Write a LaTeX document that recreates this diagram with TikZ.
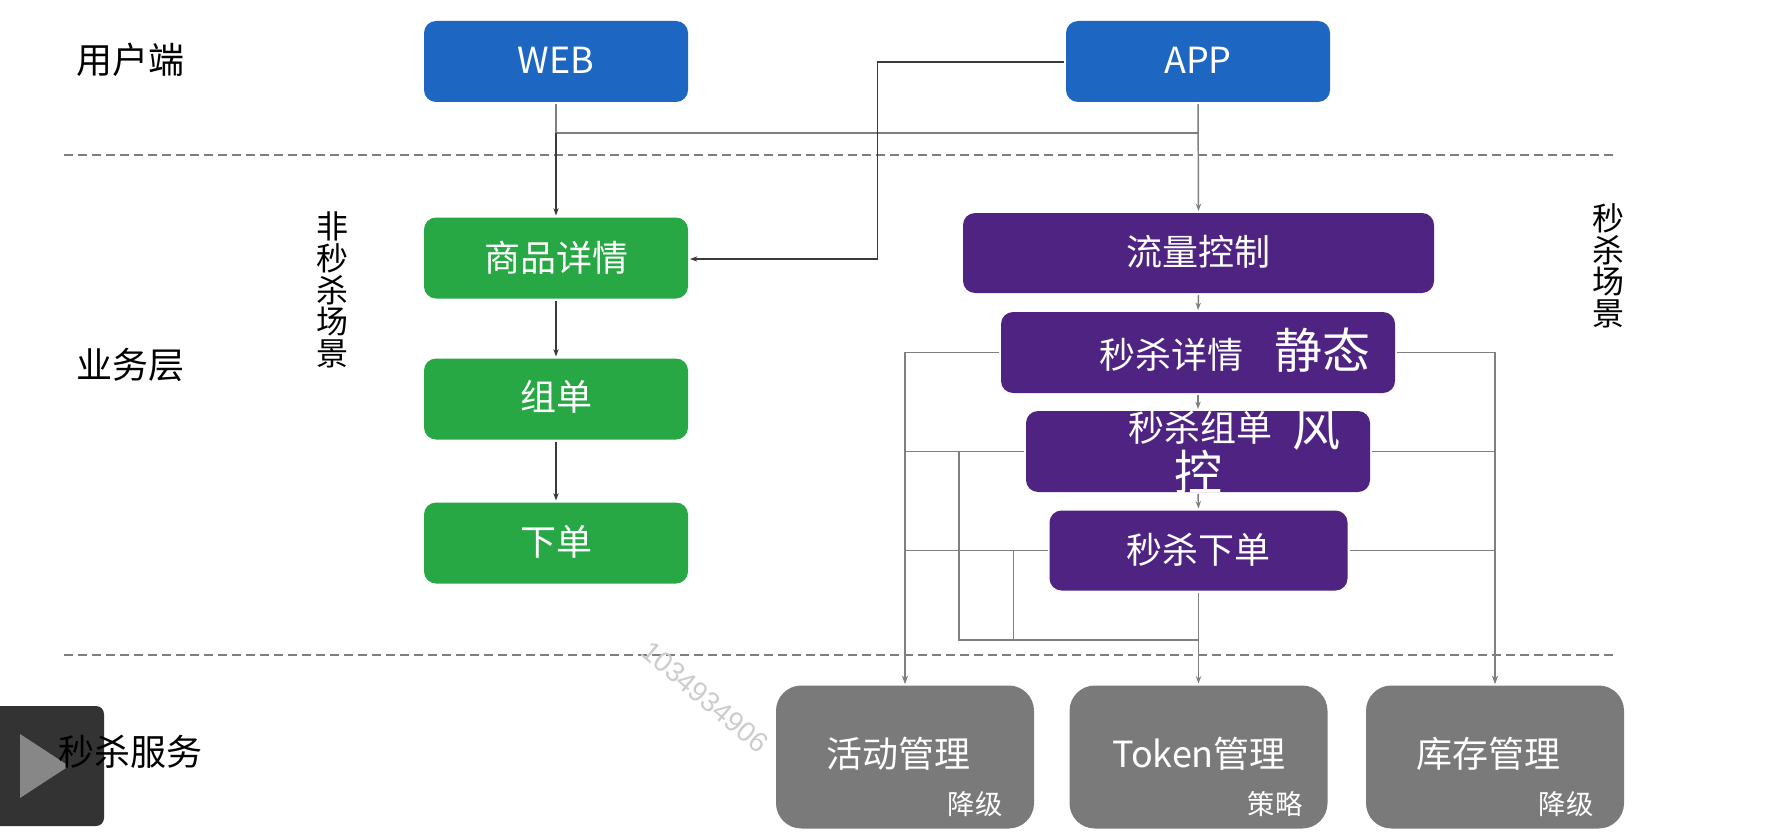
\documentclass[tikz,border=0pt]{standalone}
\usepackage{fontspec}
\setmainfont{Noto Sans CJK SC}
\newfontfamily\wmfont{Liberation Sans}
\usetikzlibrary{arrows.meta,positioning}
\definecolor{cblue}{HTML}{1D66C1}
\definecolor{cgreen}{HTML}{28A745}
\definecolor{cpurple}{HTML}{4F2382}
\definecolor{cgray}{HTML}{7A7A7A}
\definecolor{cline}{HTML}{7F7F7F}
\definecolor{cdark}{HTML}{3A3A3A}
\newcommand{\fsz}[1]{\fontsize{#1}{#1}\selectfont}
\tikzset{
  x=0.75pt,y=-0.75pt,
  boxbase/.style={inner sep=0pt,outer sep=1.5pt,text=white,font=\fsz{26}},
  sz/.style 2 args={minimum width=#1*0.75pt,minimum height=#2*0.75pt},
  bluebox/.style={boxbase,fill=cblue,rounded corners=9pt,sz={264}{81}},
  greenbox/.style={boxbase,fill=cgreen,rounded corners=9pt,sz={264}{81}},
  purplebox/.style={boxbase,fill=cpurple,rounded corners=9pt},
  graybox/.style={boxbase,fill=cgray,rounded corners=19pt,sz={258}{143}},
  boxtext/.style={inner sep=0pt,text=white,font=\fsz{27}},
  bigtext/.style={inner sep=0pt,text=white,font=\fsz{36}},
  smalltext/.style={inner sep=0pt,text=white,font=\fsz{20.5}},
  lefttext/.style={inner sep=0pt,text=black,font=\fsz{27}},
  sidetext/.style={inner sep=0pt,text=black,font=\fsz{24},align=center},
  conn/.style={draw=cline,line width=1.1pt},
  darkconn/.style={draw=cdark,line width=1.1pt},
  arr/.style={-{Stealth[length=5.5pt,width=4pt]}},
  sepline/.style={draw=cline,line width=1.2pt,dash pattern=on 7pt off 3.5pt},
}
\begin{document}
\begin{tikzpicture}
\useasboundingbox (0,0) rectangle (1770,838);
\fill[white] (0,0) rectangle (1770,838);
% separators
\coordinate (s1a) at (64,155); \coordinate (s1b) at (1614,155);
\coordinate (s2a) at (64,655); \coordinate (s2b) at (1614,655);
\draw[sepline] (s1a) -- (s1b);
\draw[sepline] (s2a) -- (s2b);
% boxes
\node[bluebox] (web) at (556,61.5) {};
\node[bluebox] (app) at (1198,61.5) {};
\node[greenbox] (goods) at (556,258) {};
\node[greenbox] (zu) at (556,399) {};
\node[greenbox] (xia) at (556,543) {};
\node[purplebox,sz={471}{80}] (fc) at (1198.5,253) {};
\node[purplebox,sz={394}{81}] (xq) at (1198,352.5) {};
\node[purplebox,sz={344}{81}] (zd) at (1198,451.5) {};
\node[purplebox,sz={298}{80}] (xd) at (1198.5,550.5) {};
\node[graybox] (hd) at (905,757) {};
\node[graybox] (tk) at (1198.5,757) {};
\node[graybox] (kc) at (1495,757) {};
% connectors
\coordinate (jw) at (web.south |- 0,133);
\coordinate (ja) at (app.south |- 0,133);
\coordinate (ctl) at (877.5,62);
\coordinate (ctlb) at (877.5,259);
\coordinate (zi) at (959,451.5);
\coordinate (xi) at (1013.5,550.5);
\coordinate (mg) at (tk.north |- 0,640);
\draw[conn] (jw) -- (ja);
\draw[conn] (web.south) -- (jw);
\draw[darkconn,arr] (jw) -- (goods.north);
\draw[conn,arr] (app.south) -- (fc.north);
\draw[darkconn,arr] (app.west |- ctl) -- (ctl) -- (ctlb) -- (goods.east |- ctlb);
\draw[darkconn,arr] (goods.south) -- (zu.north);
\draw[darkconn,arr] (zu.south) -- (xia.north);
\draw[conn,arr] (fc.south) -- (xq.north);
\draw[conn,arr] (xq.south) -- (zd.north);
\draw[conn,arr] (zd.south) -- (xd.north);
\draw[conn,arr] (xq.west) -| (hd.north);
\draw[conn,arr] (zd.west) -| (hd.north);
\draw[conn,arr] (xd.west) -| (hd.north);
\draw[conn,arr] (xq.east) -| (kc.north);
\draw[conn,arr] (zd.east) -| (kc.north);
\draw[conn,arr] (xd.east) -| (kc.north);
\draw[conn] (zi) |- (mg);
\draw[conn] (xi) -- (xi |- mg);
\draw[conn,arr] (xd.south) -- (tk.north);
% box texts
\node[boxtext] (t1) at (556,60) {WEB};
\node[boxtext] (t2) at (1198,60) {APP};
\node[boxtext] (t3) at (556,258) {商品详情};
\node[boxtext] (t4) at (556,397) {组单};
\node[boxtext] (t5) at (556,542) {下单};
\node[boxtext] (t6) at (1198,252) {流量控制};
\node[boxtext] (t7) at (1171,355) {秒杀详情};
\node[bigtext] (t8) at (1322,350) {静态};
\node[boxtext] (t9) at (1200,428) {秒杀组单};
\node[bigtext] (t10) at (1316,429) {风};
\node[bigtext] (t11) at (1198,472) {控};
\node[boxtext] (t12) at (1198,550) {秒杀下单};
\node[boxtext] (t13) at (898,754) {活动管理};
\node[boxtext] (t14) at (1199,754) {Token管理};
\node[boxtext] (t15) at (1488,754) {库存管理};
\node[smalltext] (t16) at (975,804) {降级};
\node[smalltext] (t17) at (1275,804) {策略};
\node[smalltext] (t18) at (1566,804) {降级};
% play overlay
\fill[fill=black!80,rounded corners=6pt] (-20,706) -- (104,706) -- (104,826) -- (-20,826) -- cycle;
\fill[fill=black!47] (20,734) -- (69,766) -- (20,798) -- cycle;
% left labels
\node[lefttext] (l1) at (130,60) {用户端};
\node[lefttext] (l2) at (130,365) {业务层};
\node[lefttext] (l3) at (130,752) {秒杀服务};
\node[sidetext] (s1) at (332,290) {非\\[-0.3pt]秒\\[-0.3pt]杀\\[-0.3pt]场\\[-0.3pt]景};
\node[sidetext] (s2) at (1608.5,266) {秒\\[-0.3pt]杀\\[-0.3pt]场\\[-0.3pt]景};
\node[inner sep=0pt,text=black!20,rotate=-40,font=\wmfont\fsz{21}] (wm) at (705,697) {1034934906};
\end{tikzpicture}
\end{document}
